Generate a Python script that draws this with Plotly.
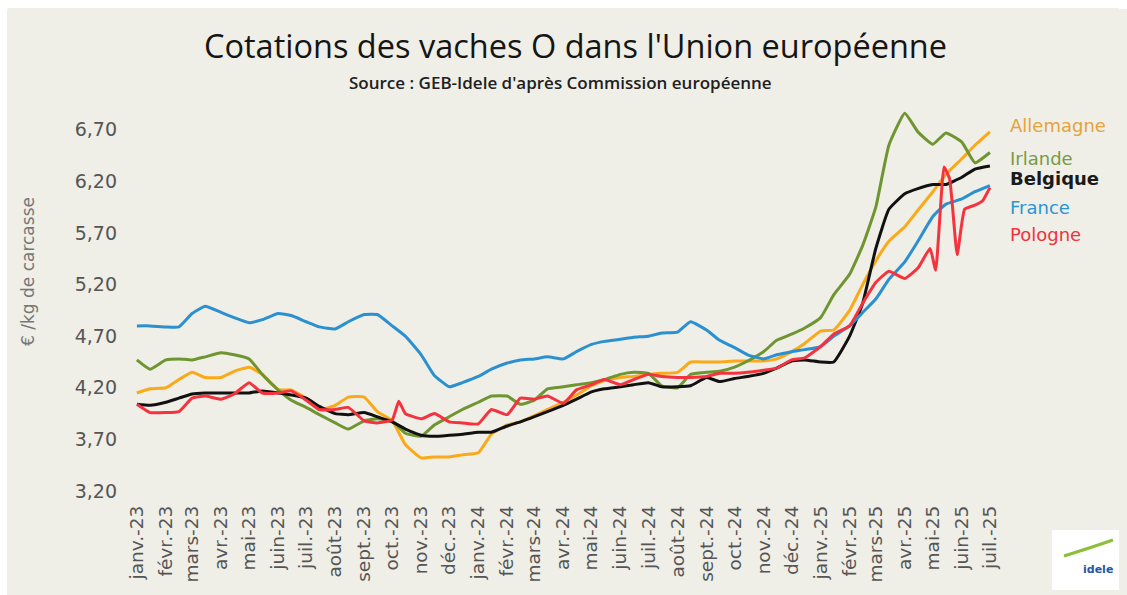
import pandas as pd
import plotly.graph_objects as go

# ---------------- data ----------------
month_starts = pd.date_range("2023-01-01", "2025-07-01", freq="MS")
dates = []
for d in month_starts:
    dates.append(d.strftime("%Y-%m-%d"))
    if d < month_starts[-1]:
        dates.append((d + pd.Timedelta(days=14)).strftime("%Y-%m-%d"))

tick_labels = ["janv.-23", "févr.-23", "mars-23", "avr.-23", "mai-23", "juin-23", "juil.-23",
               "août-23", "sept.-23", "oct.-23", "nov.-23", "déc.-23",
               "janv.-24", "févr.-24", "mars-24", "avr.-24", "mai-24", "juin-24", "juil.-24",
               "août-24", "sept.-24", "oct.-24", "nov.-24", "déc.-24",
               "janv.-25", "févr.-25", "mars-25", "avr.-25", "mai-25", "juin-25", "juil.-25"]
tick_dates = [d.strftime("%Y-%m-%d") for d in month_starts]

y_ticks = [3.20, 3.70, 4.20, 4.70, 5.20, 5.70, 6.20, 6.70]
y_tick_text = ["3,20", "3,70", "4,20", "4,70", "5,20", "5,70", "6,20", "6,70"]

france = [4.80, 4.80, 4.79, 4.79, 4.92, 4.99, 4.93, 4.88, 4.83, 4.86,
          4.92, 4.90, 4.84, 4.79, 4.77, 4.84, 4.91, 4.91, 4.80, 4.70,
          4.52, 4.32, 4.21, 4.25, 4.31, 4.38, 4.44, 4.47, 4.48, 4.50,
          4.48, 4.55, 4.62, 4.65, 4.67, 4.69, 4.70, 4.73, 4.74, 4.84,
          4.76, 4.66, 4.59, 4.52, 4.48, 4.52, 4.55, 4.57, 4.60, 4.70,
          4.80, 4.93, 5.06, 5.25, 5.42, 5.62, 5.86, 5.98, 6.03, 6.10,
          6.16]

allemagne = [4.15, 4.19, 4.20, 4.28, 4.35, 4.30, 4.30, 4.36, 4.40, 4.33,
             4.18, 4.18, 4.10, 3.99, 4.03, 4.11, 4.11, 3.97, 3.88, 3.65,
             3.52, 3.53, 3.53, 3.55, 3.57, 3.75, 3.84, 3.87, 3.93, 3.99,
             4.06, 4.13, 4.22, 4.27, 4.30, 4.31, 4.33, 4.34, 4.35, 4.45,
             4.45, 4.45, 4.46, 4.46, 4.46, 4.48, 4.55, 4.63, 4.75, 4.76,
             4.95, 5.20, 5.43, 5.62, 5.76, 5.92, 6.10, 6.27, 6.42, 6.55,
             6.68]

irlande = [4.47, 4.38, 4.47, 4.48, 4.47, 4.50, 4.54, 4.52, 4.48, 4.33,
           4.18, 4.08, 4.01, 3.94, 3.86, 3.80, 3.88, 3.90, 3.88, 3.76,
           3.73, 3.84, 3.92, 3.99, 4.06, 4.12, 4.12, 4.04, 4.08, 4.19,
           4.21, 4.23, 4.25, 4.28, 4.33, 4.35, 4.34, 4.22, 4.20, 4.33,
           4.35, 4.36, 4.40, 4.46, 4.55, 4.66, 4.72, 4.78, 4.88, 5.10,
           5.30, 5.58, 5.95, 6.55, 6.86, 6.68, 6.56, 6.67, 6.58, 6.38,
           6.48]

belgique = [4.04, 4.03, 4.06, 4.10, 4.14, 4.15, 4.15, 4.15, 4.15, 4.17,
            4.15, 4.13, 4.10, 4.02, 3.95, 3.94, 3.96, 3.92, 3.87, 3.80,
            3.74, 3.73, 3.74, 3.75, 3.77, 3.77, 3.83, 3.87, 3.92, 3.97,
            4.03, 4.09, 4.16, 4.19, 4.21, 4.23, 4.25, 4.21, 4.21, 4.22,
            4.30, 4.26, 4.29, 4.31, 4.34, 4.39, 4.46, 4.47, 4.45, 4.45,
            4.70, 5.02, 5.55, 5.93, 6.08, 6.13, 6.17, 6.17, 6.24, 6.32,
            6.35]

pologne_dates = (dates[:19] + ["2023-10-08"] + dates[19:56] +
                 ["2025-04-28", "2025-05-04", "2025-05-13", "2025-05-19", "2025-05-27",
                  "2025-06-04", "2025-06-15", "2025-06-23", "2025-07-01"])
pologne = [4.04, 3.96, 3.96, 3.97, 4.10, 4.12, 4.09, 4.14, 4.25, 4.15,
           4.15, 4.17, 4.08, 3.99, 3.99, 4.01, 3.88, 3.86, 3.89,
           4.07,
           3.95, 3.90, 3.95, 3.87, 3.86, 3.85, 3.99, 3.94, 4.10, 4.09,
           4.12, 4.05, 4.18, 4.23, 4.28, 4.23, 4.28, 4.33, 4.31, 4.30,
           4.30, 4.31, 4.34, 4.34, 4.35, 4.37, 4.39, 4.47, 4.49, 4.60,
           4.72, 4.80, 5.02, 5.22, 5.33, 5.26, 5.36,
           5.55, 5.34, 6.34, 6.22, 5.49, 5.93, 5.97, 6.01, 6.14]

series = [
    ("Allemagne", dates, allemagne, "#FBA919", "#E5A33A", 126),
    ("Irlande", dates, irlande, "#6E9530", "#7A9A45", 158),
    ("Belgique", dates, belgique, "#111111", "#1A1A1A", 178),
    ("France", dates, france, "#2B90CF", "#2B95D3", 207),
    ("Pologne", pologne_dates, pologne, "#F4333F", "#F2323E", 234),
]

BG = "#EFEEE7"

# ---------------- layout geometry (page px, page has 8px body margin) ----------------
OFF = 8
W, H = 1127 - OFF, 595 - OFF
L, T = 121 - OFF, 104 - OFF
PW, PH = 882, 387
R, B = W - L - PW, H - T - PH


def px_to_paper_x(px):
    return (px - OFF - L) / PW


def px_to_paper_y(py):
    return (T + PH - (py - OFF)) / PH


fig = go.Figure()
for name, xs, ys, lc, tc, ly in series:
    fig.add_trace(go.Scatter(x=xs, y=ys, mode="lines", name=name,
                             line=dict(color=lc, width=3, shape="spline", smoothing=0.4),
                             showlegend=False, hoverinfo="skip"))

annotations = []
for name, xs, ys, lc, tc, ly in series:
    bold = name == "Belgique"
    annotations.append(dict(
        xref="paper", yref="paper", x=px_to_paper_x(1008), y=px_to_paper_y(ly),
        xanchor="left", yanchor="middle", showarrow=False,
        text=f"<b>{name}</b>" if bold else name,
        font=dict(family="DejaVu Sans", size=18, color=tc)))

annotations.append(dict(
    xref="paper", yref="paper", x=px_to_paper_x(575), y=px_to_paper_y(45),
    xanchor="center", yanchor="middle", showarrow=False,
    text="Cotations des vaches O dans l'Union européenne",
    font=dict(family="Open Sans", size=32.5, color="#151515")))
annotations.append(dict(
    xref="paper", yref="paper", x=px_to_paper_x(560), y=px_to_paper_y(82),
    xanchor="center", yanchor="middle", showarrow=False,
    text="Source : GEB-Idele d'après Commission européenne",
    font=dict(family="Open Sans", size=17, color="#202020", weight=600)))
annotations.append(dict(
    xref="paper", yref="paper", x=px_to_paper_x(28), y=px_to_paper_y(272),
    xanchor="center", yanchor="middle", showarrow=False, textangle=-90,
    text="€ /kg de carcasse",
    font=dict(family="DejaVu Sans", size=17, color="#777777")))
annotations.append(dict(
    xref="paper", yref="paper", x=px_to_paper_x(1098), y=px_to_paper_y(569),
    xanchor="center", yanchor="middle", showarrow=False,
    text="<b>idele</b>",
    font=dict(family="DejaVu Sans", size=11, color="#2456A4")))

shapes = [
    dict(type="rect", xref="paper", yref="paper", layer="below",
         x0=px_to_paper_x(1052), x1=px_to_paper_x(1119),
         y0=px_to_paper_y(590), y1=px_to_paper_y(530),
         fillcolor="#FFFFFF", line=dict(width=0)),
    dict(type="path", xref="paper", yref="paper",
         path=(f"M {px_to_paper_x(1064)},{px_to_paper_y(556)} "
               f"Q {px_to_paper_x(1090)},{px_to_paper_y(548)} {px_to_paper_x(1113)},{px_to_paper_y(540)}"),
         line=dict(color="#8DBE3A", width=3)),
]

fig.update_layout(
    width=W, height=H,
    margin=dict(l=L, r=R, t=T, b=B, pad=0),
    paper_bgcolor=BG, plot_bgcolor="rgba(0,0,0,0)",
    annotations=annotations, shapes=shapes,
    xaxis=dict(type="date", range=["2022-12-15", "2025-07-15"],
               tickvals=tick_dates, ticktext=tick_labels, tickangle=-90,
               showgrid=False, zeroline=False, showline=False, ticks="",
               ticklabelstandoff=10,
               tickfont=dict(family="DejaVu Sans", size=18.5, color="#555555")),
    yaxis=dict(range=[3.2, 6.95], tickvals=y_ticks, ticktext=y_tick_text,
               showgrid=False, zeroline=False, showline=False, ticks="",
               ticklabelstandoff=3,
               tickfont=dict(family="DejaVu Sans", size=19, color="#555555")),
)

page_bg_js = (
    "document.body.style.background = "
    "'linear-gradient(#ffffff 0 9px, transparent 9px), "
    "linear-gradient(to right, #ffffff 0 7px, " + BG + " 7px)';"
)

fig.write_html("out.html", post_script=page_bg_js)
